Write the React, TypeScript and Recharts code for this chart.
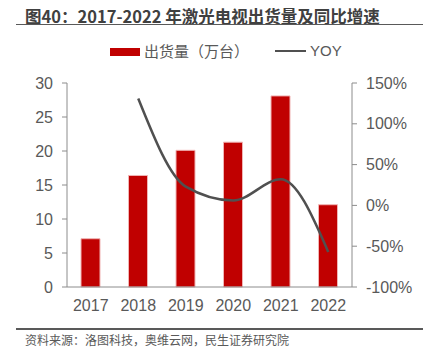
import React from 'react';
import { ComposedChart, Bar, Line, XAxis, YAxis } from 'recharts';

const years = ['2017', '2018', '2019', '2020', '2021', '2022'];
const shipments = [7.1, 16.4, 20.1, 21.3, 28.1, 12.1];
const yoy: (number | null)[] = [null, 131, 23, 6, 32, -57];
const leftTicks = [0, 5, 10, 15, 20, 25, 30];
const rightTicks = [-100, -50, 0, 50, 100, 150];
const boundaryTicks = [0, 1, 2, 3, 4, 5, 6];
const seriesNames = ['出货量（万台）', 'YOY'];
const titleText = '图40：2017-2022 年激光电视出货量及同比增速';
const sourceText = '资料来源：洛图科技，奥维云网，民生证券研究院';

const data = years.map((y, i) => ({ year: y, shipments: shipments[i], yoy: yoy[i] }));

const FONT = "'Liberation Sans', 'Noto Sans CJK SC', sans-serif";
const AXIS = '#8c8c8c';
const TXT = '#595959';

export default function App() {
  return (
    <div style={{ position: 'absolute', left: 0, top: 0, width: 428, height: 354, background: '#fff', fontFamily: FONT }}>
      <div style={{ position: 'absolute', left: 25, top: 5.5, fontSize: 16.5, lineHeight: '20px', fontWeight: 'bold', color: '#404040', whiteSpace: 'nowrap', fontFamily: "'Noto Sans CJK SC', sans-serif" }}>
        {titleText}
      </div>
      <div style={{ position: 'absolute', left: 16, top: 23.5, width: 407, height: 1.5, background: '#595959' }} />
      <div style={{ position: 'absolute', left: 110, top: 47.5, width: 30, height: 8.5, background: '#C00000' }} />
      <div style={{ position: 'absolute', left: 144, top: 41, fontSize: 15, lineHeight: '20px', color: TXT, whiteSpace: 'nowrap', fontFamily: "'Noto Sans CJK SC', sans-serif" }}>
        {seriesNames[0]}
      </div>
      <div style={{ position: 'absolute', left: 275, top: 50, width: 31, height: 2, background: '#505050' }} />
      <div style={{ position: 'absolute', left: 310, top: 41, fontSize: 15, lineHeight: '20px', color: TXT, whiteSpace: 'nowrap', fontFamily: FONT }}>
        {seriesNames[1]}
      </div>
      <div style={{ position: 'absolute', left: 0, top: 0 }}>
        <ComposedChart width={428} height={354} data={data} margin={{ top: 83, right: 6, bottom: 36, left: 17 }}>
          <XAxis
            xAxisId="b"
            type="number"
            domain={[0, 6]}
            ticks={boundaryTicks}
            allowDataOverflow
            height={1}
            tick={false}
            tickSize={5}
            axisLine={{ stroke: AXIS, strokeWidth: 1 }}
            tickLine={{ stroke: AXIS, strokeWidth: 1 }}
          />
          <XAxis
            xAxisId="cat"
            dataKey="year"
            height={30}
            axisLine={false}
            tickLine={false}
            tickSize={5}
            tickMargin={7}
            tick={{ fill: TXT, fontSize: 16, fontFamily: FONT }}
          />
          <YAxis
            yAxisId="l"
            domain={[0, 30]}
            ticks={leftTicks}
            width={50}
            tickSize={5}
            tickMargin={9}
            axisLine={{ stroke: AXIS }}
            tickLine={{ stroke: AXIS }}
            tick={{ fill: TXT, fontSize: 16, fontFamily: FONT }}
          />
          <YAxis
            yAxisId="r"
            orientation="right"
            domain={[-100, 150]}
            ticks={rightTicks}
            tickFormatter={(v: number) => `${v}%`}
            width={70}
            tickSize={5}
            tickMargin={9}
            axisLine={{ stroke: AXIS }}
            tickLine={{ stroke: AXIS }}
            tick={{ fill: TXT, fontSize: 16, fontFamily: FONT }}
          />
          <Bar xAxisId="cat" yAxisId="l" dataKey="shipments" name={seriesNames[0]} fill="#C00000" stroke="#F0B4B4" strokeWidth={1} barSize={19} isAnimationActive={false} />
          <Line xAxisId="cat" yAxisId="r" dataKey="yoy" name={seriesNames[1]} type="monotone" stroke="#505050" strokeWidth={2.5} dot={false} isAnimationActive={false} />
        </ComposedChart>
      </div>
      <div style={{ position: 'absolute', left: 16, top: 328, width: 407, height: 1.5, background: '#595959' }} />
      <div style={{ position: 'absolute', left: 25, top: 332, fontSize: 12, lineHeight: '16px', color: TXT, whiteSpace: 'nowrap', fontFamily: "'Noto Sans CJK SC', sans-serif" }}>
        {sourceText}
      </div>
    </div>
  );
}
